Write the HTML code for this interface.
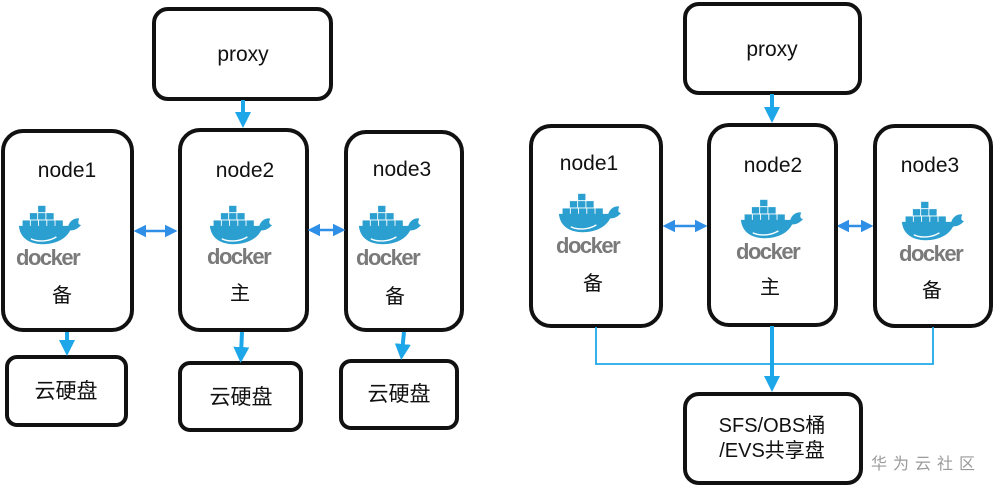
<!DOCTYPE html>
<html><head><meta charset="utf-8"><style>
html,body{margin:0;padding:0;background:#fff;}
svg{display:block;}
text{font-family:"Liberation Sans","Noto Sans CJK SC",sans-serif;fill:#111;}
.b{fill:#fff;stroke:#111;stroke-width:4;}
.dk{font-size:22px;fill:#7a7a7a;font-weight:bold;letter-spacing:-1.5px;}
</style></head><body>
<svg width="993" height="487" viewBox="0 0 993 487" xmlns="http://www.w3.org/2000/svg">
<defs>
<symbol id="wh" viewBox="0 0 70 42">
<g fill="#2a9fd0">
<rect x="22" y="0" width="8" height="7"/>
<rect x="13" y="8" width="8" height="7"/><rect x="22" y="8" width="8" height="7"/><rect x="31" y="8" width="8" height="7"/>
<rect x="5" y="16" width="8" height="7"/><rect x="14" y="16" width="8" height="7"/><rect x="23" y="16" width="8" height="7"/><rect x="32" y="16" width="8" height="7"/><rect x="41" y="16" width="8" height="7"/>
<path d="M1 22 L55 22 C57 16 62 13 67 14 C65 18 66 21 69 21 C65 26 60 27 57 27 C52 37 40 42 27 42 C11 42 2 34 1 22 Z"/>
</g>
<path d="M14 36 C22 40 34 39 42 34" stroke="#fff" stroke-width="1.5" fill="none"/>
</symbol>
<marker id="ar" markerWidth="4" markerHeight="4" refX="2" refY="2" orient="auto" markerUnits="strokeWidth"><path d="M0,0 L4,2 L0,4 Z" fill="#1ea7e8"/></marker>
<marker id="a2" markerWidth="5" markerHeight="5" refX="4" refY="2.5" orient="auto-start-reverse" markerUnits="strokeWidth"><path d="M0,0 L5,2.5 L0,5 Z" fill="#2f8fe6"/></marker>
</defs>

<!-- LEFT -->
<rect class="b" x="154" y="9" width="177" height="90" rx="14"/>
<text x="243" y="61" font-size="21" text-anchor="middle">proxy</text>
<rect class="b" x="3" y="131" width="129" height="199" rx="20"/>
<rect class="b" x="180" y="130" width="127" height="200" rx="20"/>
<rect class="b" x="346" y="132" width="116" height="198" rx="20"/>
<text x="67" y="177" font-size="21" text-anchor="middle">node1</text>
<text x="245" y="177" font-size="21" text-anchor="middle">node2</text>
<text x="402" y="176" font-size="21" text-anchor="middle">node3</text>
<use href="#wh" x="18" y="205" width="64" height="40"/>
<text class="dk" x="16" y="265">docker</text>
<use href="#wh" x="209" y="205" width="64" height="40"/>
<text class="dk" x="207" y="264">docker</text>
<use href="#wh" x="358" y="205" width="64" height="40"/>
<text class="dk" x="356" y="265">docker</text>
<text x="62" y="302" font-size="20" text-anchor="middle">备</text>
<text x="240" y="300" font-size="20" text-anchor="middle">主</text>
<text x="395" y="303" font-size="20" text-anchor="middle">备</text>
<rect class="b" x="7" y="357" width="119" height="68" rx="10"/>
<rect class="b" x="180" y="363" width="121" height="67" rx="10"/>
<rect class="b" x="341" y="361" width="116" height="67" rx="10"/>
<text x="66" y="398" font-size="21" text-anchor="middle">云硬盘</text>
<text x="241" y="404" font-size="21" text-anchor="middle">云硬盘</text>
<text x="399" y="401" font-size="21" text-anchor="middle">云硬盘</text>
<g stroke="#1ea7e8" stroke-width="4">
<line x1="243" y1="100" x2="243" y2="120" marker-end="url(#ar)"/>
<line x1="67" y1="332" x2="67" y2="348" marker-end="url(#ar)"/>
<line x1="242" y1="332" x2="241" y2="355" marker-end="url(#ar)"/>
<line x1="404" y1="332" x2="402" y2="352" marker-end="url(#ar)"/>
</g>
<g stroke="#2f8fe6" stroke-width="2.5">
<line x1="136" y1="231" x2="175" y2="231" marker-start="url(#a2)" marker-end="url(#a2)"/>
<line x1="310" y1="230" x2="343" y2="230" marker-start="url(#a2)" marker-end="url(#a2)"/>
<line x1="665" y1="226" x2="705" y2="226" marker-start="url(#a2)" marker-end="url(#a2)"/>
<line x1="839" y1="226" x2="871" y2="226" marker-start="url(#a2)" marker-end="url(#a2)"/>
</g>

<!-- RIGHT -->
<rect class="b" x="685" y="4" width="175" height="89" rx="14"/>
<text x="772" y="56" font-size="21" text-anchor="middle">proxy</text>
<rect class="b" x="531" y="126" width="130" height="200" rx="20"/>
<rect class="b" x="709" y="125" width="127" height="200" rx="20"/>
<rect class="b" x="875" y="126" width="116" height="200" rx="20"/>
<text x="589" y="170" font-size="21" text-anchor="middle">node1</text>
<text x="773" y="172" font-size="21" text-anchor="middle">node2</text>
<text x="930" y="172" font-size="21" text-anchor="middle">node3</text>
<use href="#wh" x="558" y="193" width="64" height="40"/>
<text class="dk" x="556" y="253">docker</text>
<use href="#wh" x="740" y="199" width="64" height="40"/>
<text class="dk" x="736" y="259">docker</text>
<use href="#wh" x="901" y="201" width="64" height="40"/>
<text class="dk" x="899" y="261">docker</text>
<text x="593" y="290" font-size="20" text-anchor="middle">备</text>
<text x="770" y="294" font-size="20" text-anchor="middle">主</text>
<text x="932" y="297" font-size="20" text-anchor="middle">备</text>
<rect class="b" x="685" y="394" width="176" height="89" rx="14"/>
<text x="772" y="432" font-size="20" text-anchor="middle">SFS/OBS桶</text>
<text x="772" y="457" font-size="20" text-anchor="middle">/EVS共享盘</text>
<polyline points="596,327 596,364 933,364 933,327" fill="none" stroke="#1ea7e8" stroke-width="1.8"/>
<g stroke="#1ea7e8" stroke-width="4">
<line x1="772" y1="94" x2="772" y2="115" marker-end="url(#ar)"/>
<line x1="772" y1="326" x2="772" y2="384" marker-end="url(#ar)"/>
</g>
<text x="926" y="469" font-size="16" text-anchor="middle" style="fill:#9a9a9a;letter-spacing:6px">华为云社区</text>
</svg>
</body></html>
